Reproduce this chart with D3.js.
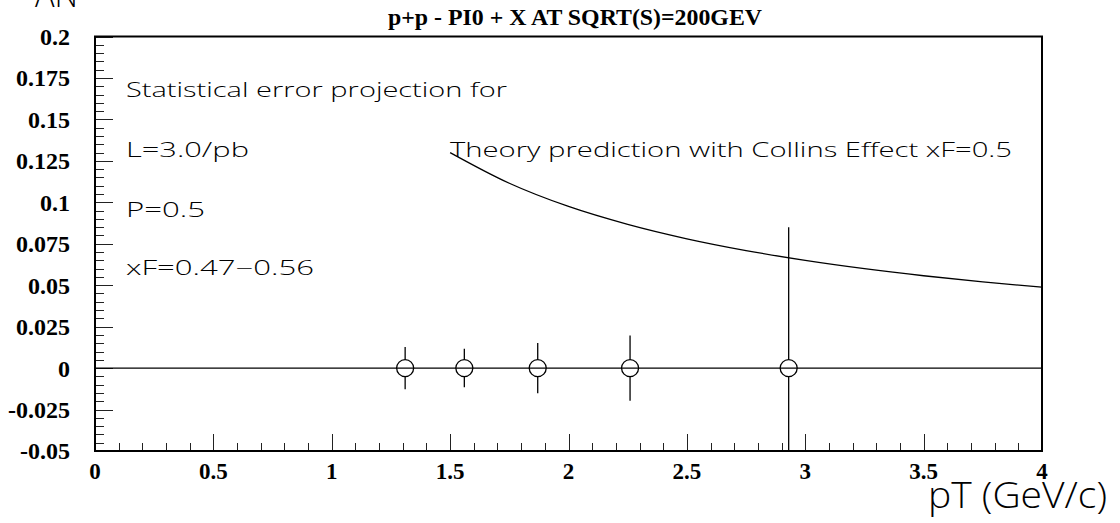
<!DOCTYPE html>
<html>
<head>
<meta charset="utf-8">
<script src="https://cdn.jsdelivr.net/npm/d3@7"></script>
<style>
  html, body { margin: 0; padding: 0; background: #fff; }
  svg { display: block; }
  .serif { font-family: "Liberation Serif", "Times New Roman", serif; font-weight: bold; fill: #000; }
  .thin { font-family: "Open Sans", "DejaVu Sans", sans-serif; font-weight: 300; fill: #000; }
</style>
</head>
<body>
<svg id="chart" width="1120" height="523"></svg>
<script>
// Projected measurement points (pT in GeV/c, AN and statistical error)
const pointPT  = [1.31, 1.56, 1.87, 2.26, 2.93];
const pointAN  = [0, 0, 0, 0, 0];
const pointErr = [0.0127, 0.0116, 0.0151, 0.0197, 0.085];

// Theory curve (Collins effect, xF = 0.5)
const theoryPT = [1.5, 1.75, 2.0, 2.25, 2.5, 2.75, 3.0, 3.25, 3.5, 3.75, 4.0];
const theoryAN = [0.130, 0.1115, 0.0975, 0.0867, 0.078, 0.0709, 0.065, 0.060, 0.0557, 0.052, 0.0488];

// Axis labels
const xTickValues = [0, 0.5, 1, 1.5, 2, 2.5, 3, 3.5, 4];
const xTickLabels = ["0", "0.5", "1", "1.5", "2", "2.5", "3", "3.5", "4"];
const yTickValues = [0.2, 0.175, 0.15, 0.125, 0.1, 0.075, 0.05, 0.025, 0, -0.025, -0.05];
const yTickLabels = ["0.2", "0.175", "0.15", "0.125", "0.1", "0.075", "0.05", "0.025", "0", "-0.025", "-0.05"];

const infoLines = ["Statistical error projection for", "L=3.0/pb", "P=0.5", "xF=0.47\u22120.56"];

const svg = d3.select("#chart");
const plotL = 95, plotR = 1042, plotT = 36.5, plotB = 451;

const x = d3.scaleLinear().domain([0, 4]).range([plotL, plotR]);
const y = d3.scaleLinear().domain([-0.05, 0.2]).range([plotB, plotT]);

svg.append("defs").append("clipPath").attr("id", "plotClip")
  .append("rect").attr("x", plotL).attr("y", plotT).attr("width", plotR - plotL).attr("height", plotB - plotT);

// Minor and major ticks on the left axis (pointing inward)
const yMinor = d3.range(0, 51).map(i => -0.05 + i * 0.005);
svg.append("g").selectAll("line").data(yMinor).join("line")
  .attr("x1", plotL).attr("x2", (d, i) => plotL + (i % 5 === 0 ? 18 : 9))
  .attr("y1", d => Math.round(y(d)) + 0.5).attr("y2", d => Math.round(y(d)) + 0.5)
  .attr("stroke", "#222").attr("stroke-width", 1);

// Minor and major ticks on the bottom axis (pointing up)
const xMinor = d3.range(0, 41).map(i => i * 0.1);
svg.append("g").selectAll("line").data(xMinor).join("line")
  .attr("x1", d => Math.round(x(d)) + 0.5).attr("x2", d => Math.round(x(d)) + 0.5)
  .attr("y1", plotB).attr("y2", (d, i) => plotB - (i % 5 === 0 ? 17 : 8))
  .attr("stroke", "#222").attr("stroke-width", 1);

// Frame
svg.append("rect").attr("x", plotL).attr("y", plotT)
  .attr("width", plotR - plotL).attr("height", plotB - plotT)
  .attr("fill", "none").attr("stroke", "#000").attr("stroke-width", 2);

// Tick labels
svg.append("g").selectAll("text").data(yTickValues).join("text")
  .attr("class", "serif").attr("font-size", 24)
  .attr("x", 70).attr("y", d => y(d)).attr("dy", "0.35em")
  .attr("text-anchor", "end").text((d, i) => yTickLabels[i]);

svg.append("g").selectAll("text").data(xTickValues).join("text")
  .attr("class", "serif").attr("font-size", 23)
  .attr("x", d => x(d)).attr("y", 479)
  .attr("text-anchor", "middle").text((d, i) => xTickLabels[i]);

// Title
svg.append("text").attr("class", "serif").attr("font-size", 24)
  .attr("x", 575).attr("y", 25).attr("text-anchor", "middle")
  .attr("textLength", 374).attr("lengthAdjust", "spacingAndGlyphs")
  .text("p+p - PI0 + X AT SQRT(S)=200GEV");

// Axis titles
svg.append("text").attr("class", "thin").attr("font-size", 37)
  .attr("x", 928).attr("y", 508).attr("textLength", 179).attr("lengthAdjust", "spacingAndGlyphs")
  .text("pT (GeV/c)");
svg.append("text").attr("class", "thin").attr("font-size", 37)
  .attr("x", 35).attr("y", 7).attr("textLength", 43).attr("lengthAdjust", "spacingAndGlyphs")
  .text("AN");

const plot = svg.append("g").attr("clip-path", "url(#plotClip)");

// Zero line
plot.append("line")
  .attr("x1", x(0)).attr("x2", x(4)).attr("y1", y(0)).attr("y2", y(0))
  .attr("stroke", "#000").attr("stroke-width", 1.3);

// Theory curve
const theory = theoryPT.map((p, i) => [p, theoryAN[i]]);
plot.append("path").datum(theory)
  .attr("fill", "none").attr("stroke", "#000").attr("stroke-width", 1.3)
  .attr("d", d3.line().x(d => x(d[0])).y(d => y(d[1])).curve(d3.curveMonotoneX));

// Points with error bars
const r = 8.5;
const pts = pointPT.map((p, i) => ({ p, a: pointAN[i], e: pointErr[i] }));
const g = plot.append("g");
g.selectAll("line.up").data(pts).join("line").attr("class", "up")
  .attr("x1", d => x(d.p)).attr("x2", d => x(d.p))
  .attr("y1", d => y(d.a) - r).attr("y2", d => y(d.a + d.e))
  .attr("stroke", "#000").attr("stroke-width", 1.3);
g.selectAll("line.down").data(pts).join("line").attr("class", "down")
  .attr("x1", d => x(d.p)).attr("x2", d => x(d.p))
  .attr("y1", d => y(d.a) + r).attr("y2", d => y(d.a - d.e))
  .attr("stroke", "#000").attr("stroke-width", 1.3);
g.selectAll("circle").data(pts).join("circle")
  .attr("cx", d => x(d.p)).attr("cy", d => y(d.a)).attr("r", r)
  .attr("fill", "none").attr("stroke", "#000").attr("stroke-width", 1.3);

// Annotation text
const infoBaselines = [97, 157, 216.5, 275];
const infoLengths = [381, 123, 79, 188];
svg.append("g").selectAll("text").data(infoLines).join("text")
  .attr("class", "thin").attr("font-size", 19.5)
  .attr("x", 126).attr("y", (d, i) => infoBaselines[i])
  .attr("textLength", (d, i) => infoLengths[i]).attr("lengthAdjust", "spacingAndGlyphs")
  .text(d => d);

svg.append("text").attr("class", "thin").attr("font-size", 19.5)
  .attr("x", 450).attr("y", 156.5).attr("textLength", 562).attr("lengthAdjust", "spacingAndGlyphs")
  .text("Theory prediction with Collins Effect xF=0.5");
</script>
</body>
</html>
